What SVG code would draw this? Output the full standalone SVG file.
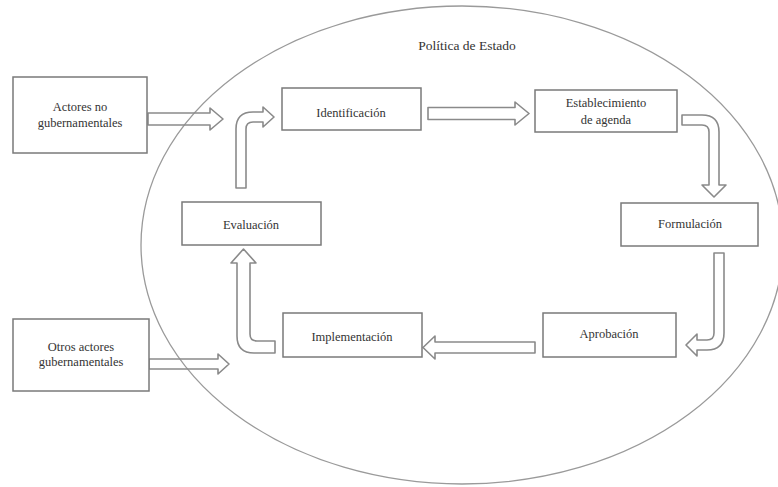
<svg xmlns="http://www.w3.org/2000/svg" width="778" height="487" viewBox="0 0 778 487">
<style>
.bg{fill:#fff}
.oval{fill:none;stroke:#9a9a9a;stroke-width:1.3}
.box{fill:#fff;stroke:#7a7a7a;stroke-width:1.5}
.arr{fill:#fff;fill-opacity:0;stroke:#8a8a8a;stroke-width:1.6;stroke-linejoin:round}
.arr2{fill:none;stroke:#e4e4e4;stroke-width:0.5;stroke-linejoin:round}
text{font-family:"Liberation Serif","Times New Roman",serif;font-size:12.5px;fill:#333;text-anchor:middle}
.title{font-size:13.5px}
</style>
<rect class="bg" x="0" y="0" width="778" height="487"/>
<g id="politica-estado">
<ellipse class="oval" cx="462" cy="245" rx="321" ry="239"/>
<text class="title" x="467" y="50">Política de Estado</text>
</g>
<g id="connectors">
<path class="arr" d="M148,113 H210 V108 L223,119 L210,130 V125 H148 Z"/>
<path class="arr" d="M428,107.5 H515 V102 L529,113.5 L515,125 V119.5 H428 Z"/>
<path class="arr" d="M682,115 H702 Q719,115 719,132 V185 H726 L714,197 L702,185 H709 V132 Q709,125 702,125 H682 Z"/>
<path class="arr" d="M714,253 H724 V333 Q724,350 707,350 H697 V356 L686,345 L697,334 V340 H707 Q714,340 714,333 Z"/>
<path class="arr" d="M535,342 H435 V336 L423,347.5 L435,359 V353 H535 Z"/>
<path class="arr" d="M275,341 H257 Q250,341 250,334 V263 H256 L243.5,249 L231,263 H237 V336 Q237,353 254,353 H275 Z"/>
<path class="arr" d="M236,188 V129 Q236,112 253,112 H263 V107 L274,117 L263,127 V122 H253 Q246,122 246,129 V188 Z"/>
<path class="arr" d="M149,359 H218 V354 L229,364 L218,374 V369 H149 Z"/>
</g>
<g id="actores-no-gubernamentales">
<rect class="box" x="13" y="77" width="134" height="76"/>
<text x="80" y="111">Actores no</text>
<text x="80" y="127">gubernamentales</text>
</g>
<g id="otros-actores-gubernamentales">
<rect class="box" x="13" y="319" width="136" height="72"/>
<text x="81" y="351">Otros actores</text>
<text x="81" y="366">gubernamentales</text>
</g>
<g id="identificacion">
<rect class="box" x="282" y="88" width="139" height="42"/>
<text x="351" y="117">Identificación</text>
</g>
<g id="establecimiento-agenda">
<rect class="box" x="535" y="90" width="142" height="42"/>
<text x="606" y="107">Establecimiento</text>
<text x="606" y="124">de agenda</text>
</g>
<g id="formulacion">
<rect class="box" x="621" y="203" width="137" height="43"/>
<text x="690" y="228">Formulación</text>
</g>
<g id="aprobacion">
<rect class="box" x="543" y="313" width="133" height="44"/>
<text x="609" y="338">Aprobación</text>
</g>
<g id="implementacion">
<rect class="box" x="283" y="313" width="139" height="44"/>
<text x="352" y="341">Implementación</text>
</g>
<g id="evaluacion">
<rect class="box" x="182" y="202" width="139" height="43"/>
<text x="251" y="229">Evaluación</text>
</g>
</svg>
